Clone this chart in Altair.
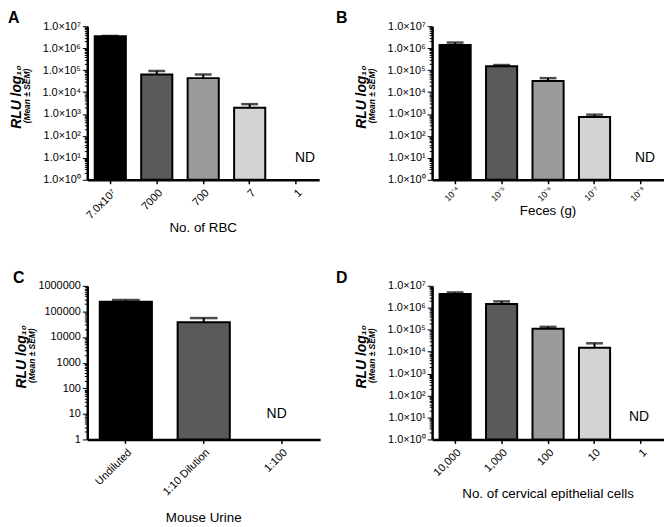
import json
import altair as alt
import pandas as pd

# ---------------- data ----------------
SUP = ["⁰", "¹", "²", "³", "⁴", "⁵", "⁶", "⁷"]

a_cats = ["7.0x10⁷", "7000", "700", "7", "1"]
a_vals = [3.5e6, 6.3e4, 4.3e4, 1.9e3, None]
a_upper = [3.6e6, 9.0e4, 6.3e4, 2.8e3, None]

b_cats = ["10⁻⁴", "10⁻⁵", "10⁻⁶", "10⁻⁷", "10⁻⁸"]
b_vals = [1.4e6, 1.5e5, 3.2e4, 730, None]
b_upper = [1.8e6, 1.7e5, 4.3e4, 930, None]

c_cats = ["Undiluted", "1:10 Dilution", "1:100"]
c_vals = [2.4e5, 3.8e4, None]
c_upper = [2.8e5, 5.5e4, None]

d_cats = ["10,000", "1,000", "100", "10", "1"]
d_vals = [4.2e6, 1.5e6, 1.1e5, 1.5e4, None]
d_upper = [5.0e6, 1.95e6, 1.35e5, 2.4e4, None]

bar_colors = ["#000000", "#5a5a5a", "#9b9b9b", "#d3d3d3", "#ffffff"]

x_titles = ["No. of RBC", "Feces (g)", "Mouse Urine", "No. of cervical epithelial cells"]
letters = ["A", "B", "C", "D"]
y_title = "RLU log₁₀"
y_sub = "(Mean ± SEM)"
nd_label = "ND"

FONT = "Liberation Sans"
H = 155

IS_POW = "abs(log(datum.value)/LN10 - round(log(datum.value)/LN10)) < 0.0001"


def panel(letter, cats, vals, upper, xtitle, max_exp, sci, width,
          letter_dx, rlu_dx, mean_dx, nd_dx, cap, title_y, xlab_size, xlab_pad):
    df = pd.DataFrame({"cat": cats, "value": vals, "upper": upper,
                       "color": bar_colors[:len(cats)]})
    bars_df = df.dropna().copy()
    nd_df = df[df["value"].isna()].copy()
    nd_df["label"] = nd_label

    ticks = [k * 10 ** d for d in range(max_exp) for k in range(1, 10)] + [10 ** max_exp]
    if sci:
        lab = f"{IS_POW} ? '1.0×10' + {json.dumps(SUP, ensure_ascii=False)}[round(log(datum.value)/LN10)] : ''"
    else:
        lab = f"{IS_POW} ? format(datum.value, 'd') : ''"

    yscale = alt.Scale(type="log", domain=[1, 10 ** max_exp], nice=False)
    yaxis = alt.Axis(values=ticks, labelExpr=lab, title=None, grid=False,
                     domainColor="black", domainWidth=2.5, tickColor="black",
                     tickWidth=1,
                     tickSize={"condition": {"test": IS_POW, "value": 5}, "value": 3},
                     labelFont=FONT, labelFontSize=11, labelColor="black",
                     labelPadding=2)
    xscale = alt.Scale(domain=cats, paddingInner=0.33, paddingOuter=0.16)
    xaxis = alt.Axis(title=None, labelAngle=-45, labelFont=FONT, labelFontSize=xlab_size,
                     labelColor="black",
                     tickSize=4, tickWidth=1.5, tickColor="black",
                     domainColor="black", domainWidth=2.5, labelPadding=xlab_pad)
    xenc = alt.X("cat:N", scale=xscale, axis=xaxis, sort=cats)

    bars = alt.Chart(bars_df).mark_bar(stroke="black", strokeWidth=2).encode(
        x=xenc,
        y=alt.Y("value:Q", scale=yscale, axis=yaxis),
        y2=alt.datum(1),
        fill=alt.Fill("color:N", scale=None),
    )
    rule = alt.Chart(bars_df).mark_rule(color="black", strokeWidth=2).encode(
        x=xenc,
        y=alt.Y("value:Q", scale=yscale, axis=yaxis),
        y2="upper:Q",
    )
    capm = alt.Chart(bars_df).mark_tick(orient="horizontal", color="black",
                                        size=cap, thickness=2.5).encode(
        x=xenc,
        y=alt.Y("upper:Q", scale=yscale, axis=yaxis),
    )
    nd = alt.Chart(nd_df).mark_text(font=FONT, fontSize=14, color="black",
                                    dx=nd_dx, baseline="middle").encode(
        x=xenc,
        y=alt.datum(10),
        text="label:N",
    )
    rlu = alt.Chart(pd.DataFrame({"t": [y_title]})).mark_text(
        angle=270, font=FONT, fontSize=14, fontWeight="bold", fontStyle="italic",
        align="center", baseline="middle", color="black").encode(
        text="t:N", x=alt.value(rlu_dx), y=alt.value(H / 2 - 6))
    mean = alt.Chart(pd.DataFrame({"t": [y_sub]})).mark_text(
        angle=270, font=FONT, fontSize=8.5, fontWeight="bold", fontStyle="italic",
        align="center", baseline="middle", color="black").encode(
        text="t:N", x=alt.value(mean_dx), y=alt.value(H / 2 - 7))
    let = alt.Chart(pd.DataFrame({"t": [letter]})).mark_text(
        font=FONT, fontSize=16, fontWeight="bold", align="left", baseline="top",
        color="black").encode(
        text="t:N", x=alt.value(letter_dx), y=alt.value(-16))
    xt = alt.Chart(pd.DataFrame({"t": [xtitle]})).mark_text(
        font=FONT, fontSize=13.5, align="center", baseline="middle",
        color="black").encode(
        text="t:N", x=alt.value(width / 2), y=alt.value(title_y))

    return alt.layer(bars, rule, capm, nd, rlu, mean, let, xt).properties(width=width, height=H)


pA = panel(letters[0], a_cats, a_vals, a_upper, x_titles[0], 7, True, 234, -80, -71, -61, 9, 17, 204, 11, 3)
pB = panel(letters[1], b_cats, b_vals, b_upper, x_titles[1], 7, True, 234, -97, -71, -61, 4, 17, 187, 9, 1)
pC = panel(letters[2], c_cats, c_vals, c_upper, x_titles[2], 6, False, 235, -75, -66, -56, -5, 28, 234, 11, 3)
pD = panel(letters[3], d_cats, d_vals, d_upper, x_titles[3], 7, True, 234, -97, -71, -61, -2, 17, 210, 11, 3)

chart = alt.concat(pA, pB, pC, pD, columns=2, spacing={"row": 35, "column": 16},
                   align="each").properties(padding=0).configure_view(stroke=None)

chart.save("out.html", embed_options={"renderer": "svg", "actions": False})
